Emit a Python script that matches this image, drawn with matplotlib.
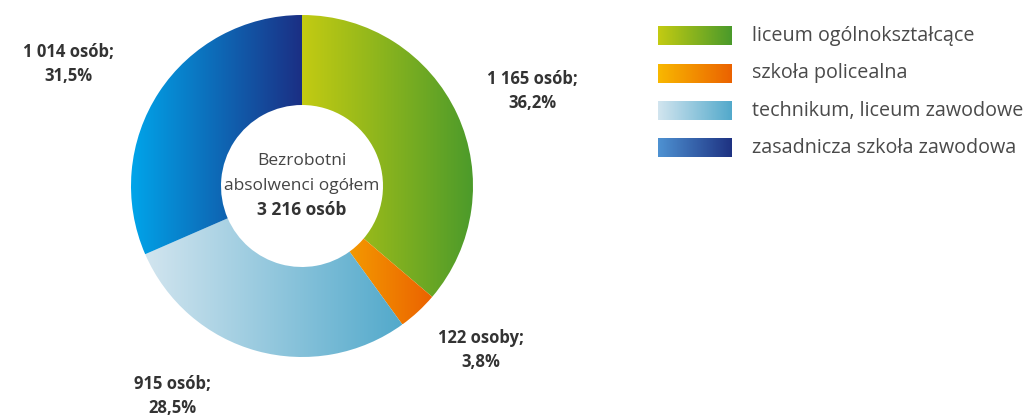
import matplotlib
matplotlib.use("Agg")
import matplotlib.pyplot as plt
import numpy as np
from matplotlib.colors import LinearSegmentedColormap

# Dane
kategorie = ["liceum ogólnokształcące", "szkoła policealna",
             "technikum, liceum zawodowe", "zasadnicza szkoła zawodowa"]
liczby = [1165, 122, 915, 1014]
procenty = ["36,2%", "3,8%", "28,5%", "31,5%"]
etykiety = ["1 165 osób;", "122 osoby;", "915 osób;", "1 014 osób;"]
ogolem = "3 216 osób"

# Kolory gradientów (lewo -> prawo)
grad_wycinki = [("#C3CB12", "#4A9A2B"), ("#F9B800", "#EB6200"),
                ("#D2E5EF", "#52A9CB"), ("#00A6EB", "#1B2F84")]
grad_legenda = [("#C3CB12", "#4A9A2B"), ("#F9B800", "#EB6200"),
                ("#D2E5EF", "#52A9CB"), ("#4E92D2", "#1E3282")]

plt.rcParams['font.family'] = ['Open Sans', 'DejaVu Sans']

W, H = 1027, 416
fig = plt.figure(figsize=(W / 100, H / 100), dpi=100)
ax = fig.add_axes([0, 0, 1, 1])

cx, cy, R = 302, H - 186, 171


def gradient(ax, x0, x1, y0, y1, kolory, clip=None):
    cmap = LinearSegmentedColormap.from_list("g", kolory)
    g = np.linspace(0, 1, 256).reshape(1, -1)
    im = ax.imshow(g, cmap=cmap, extent=[x0, x1, y0, y1], aspect='auto',
                   interpolation='bicubic', zorder=1)
    if clip is not None:
        im.set_clip_path(clip)
    return im


wedges, _ = ax.pie(liczby, center=(cx, cy), radius=R, startangle=90,
                   counterclock=False, wedgeprops=dict(width=R - 81, linewidth=0))

for w, kol in zip(wedges, grad_wycinki):
    v = w.get_path().vertices
    w.set_facecolor("none")
    gradient(ax, v[:, 0].min(), v[:, 0].max(), v[:, 1].min(), v[:, 1].max(), kol, clip=w)

# Etykiety wycinków
pozycje = [(532, 91), (481, 350), (172, 396), (68, 64)]
for (x, y), e, p in zip(pozycje, etykiety, procenty):
    ax.text(x, H - y, e + "\n" + p, ha="center", va="center", fontsize=12,
            fontweight="bold", color="#333333", linespacing=1.4)

# Tekst w środku
ax.text(cx, H - 161, "Bezrobotni", ha="center", va="center", fontsize=12.5, color="#444444")
ax.text(cx, H - 186, "absolwenci ogółem", ha="center", va="center", fontsize=12.5, color="#444444")
ax.text(cx, H - 210, ogolem, ha="center", va="center", fontsize=12.5,
        fontweight="bold", color="#333333")

# Legenda
for i, (k, kol) in enumerate(zip(kategorie, grad_legenda)):
    yc = H - (36 + i * 37.3)
    gradient(ax, 658, 732, yc - 9.5, yc + 9.5, kol)
    ax.text(752, yc, k, ha="left", va="center", fontsize=14.2, color="#4a4a4a")

ax.set_xlim(0, W)
ax.set_ylim(0, H)
ax.axis("off")

fig.savefig("out.png", dpi=100)
